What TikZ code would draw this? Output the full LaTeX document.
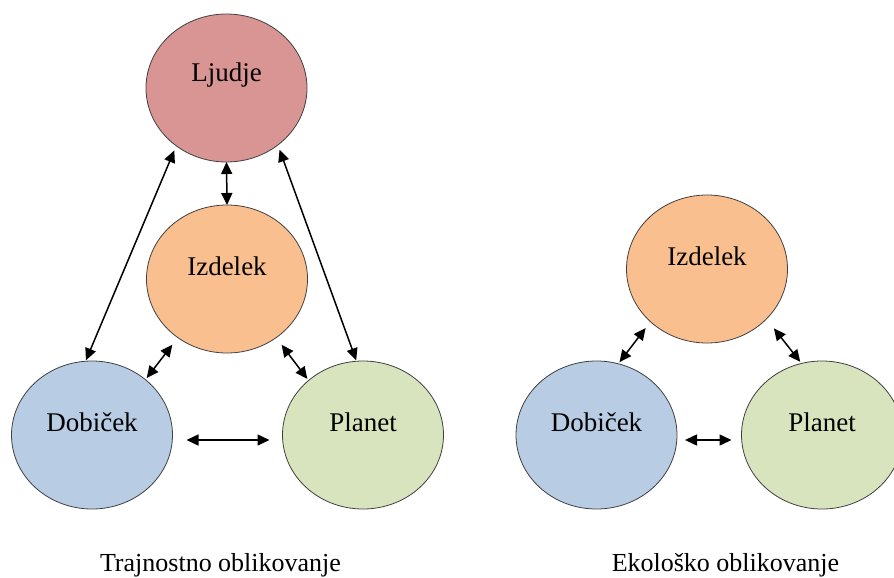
\documentclass[tikz,border=0pt]{standalone}
\usepackage{fontspec}
\setmainfont{Liberation Serif}
\usetikzlibrary{arrows.meta,shapes.geometric}
\definecolor{cLj}{HTML}{D99594}
\definecolor{cIz}{HTML}{FABF8F}
\definecolor{cDo}{HTML}{B8CCE4}
\definecolor{cPl}{HTML}{D7E4BD}
\begin{document}
\begin{tikzpicture}[x=1pt,y=-1pt,
 blob/.style={ellipse, draw=black!75, line width=0.8pt, minimum width=161pt, minimum height=148pt, inner sep=0pt, outer sep=0pt},
 lbl/.style={font=\fontsize{27}{30}\selectfont, yshift=13pt, inner sep=0pt},
 link/.style={line width=1.5pt, {Triangle[length=12pt,width=11pt]}-{Triangle[length=12pt,width=11pt]}},
 captxt/.style={font=\fontsize{26}{30}\selectfont, anchor=base, inner sep=0pt}]
\useasboundingbox (0,0) rectangle (894,578);
% left diagram
\node[blob, fill=cLj, label={[lbl]center:Ljudje}] (L) at (226.5,88) {};
\node[blob, fill=cIz, label={[lbl]center:Izdelek}] (I) at (227,279) {};
\node[blob, fill=cDo, label={[lbl]center:Dobiček}] (D) at (92,435) {};
\node[blob, fill=cPl, label={[lbl]center:Planet}] (P) at (363,435) {};
\draw[link] (L.270) -- (I.90);
\draw[link, shorten <=5pt, shorten >=1pt] (L.229) -- (D.95);
\draw[link, shorten <=5pt, shorten >=1pt] (L.312) -- (P.95);
\draw[link, shorten <=9pt, shorten >=2pt] (I.230) -- (D.46);
\draw[link, shorten <=9pt, shorten >=2pt] (I.310) -- (P.135);
\draw[link] ([shift={(14pt,-5pt)}]D.east) -- ([shift={(-13pt,-5pt)}]P.west);
\node[captxt] (c1) at (220.5,571) {Trajnostno oblikovanje};
% right diagram
\node[blob, fill=cIz, label={[lbl]center:Izdelek}] (I2) at (707,269) {};
\node[blob, fill=cDo, label={[lbl]center:Dobiček}] (D2) at (596.5,435) {};
\node[blob, fill=cPl, label={[lbl]center:Planet}] (P2) at (822,435) {};
\draw[link, shorten <=8pt, shorten >=2pt] (I2.223) -- (D2.73);
\draw[link, shorten <=12pt, shorten >=2pt] (I2.320) -- (P2.106);
\draw[link] ([shift={(8pt,-5pt)}]D2.east) -- ([shift={(-10pt,-5pt)}]P2.west);
\node[captxt] (c2) at (725.5,571) {Ekološko oblikovanje};
\end{tikzpicture}
\end{document}
